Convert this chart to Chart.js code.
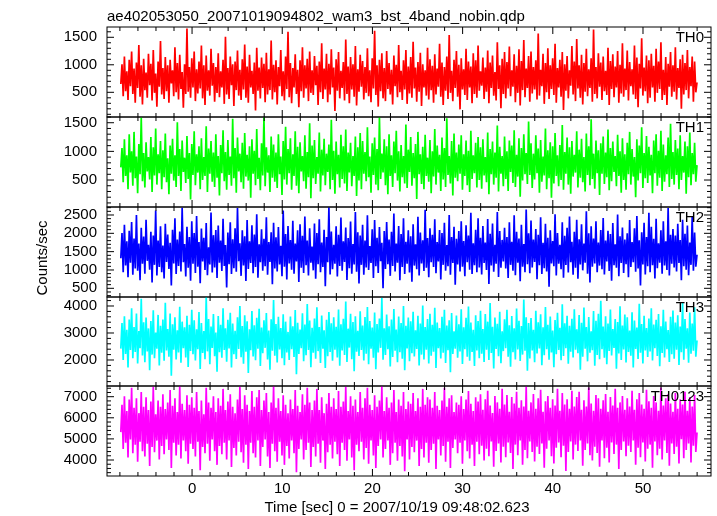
<!DOCTYPE html>
<html>
<head>
<meta charset="utf-8">
<script src="https://cdn.jsdelivr.net/npm/chart.js@4.4.0/dist/chart.umd.min.js"></script>
<style>
  body { margin: 0; background: #fff; }
  #wrap { position: relative; width: 717px; height: 516px; font-family: "Liberation Sans", Arial, sans-serif; color: #000; }
  #wrap canvas { position: absolute; left: 0; top: 0; }
  #ttl { position: absolute; left: 107px; top: 7px; font-size: 15px; line-height: 18px; white-space: nowrap; }
  #xlab { position: absolute; left: 247px; width: 300px; top: 498px; font-size: 15px; line-height: 18px; text-align: center; white-space: nowrap; }
  #ylab { position: absolute; left: -18px; width: 120px; top: 249px; font-size: 15px; line-height: 18px; text-align: center; transform: rotate(-90deg); }
</style>
</head>
<body>
<div id="wrap">
  <canvas id="c0" width="717" height="516"></canvas>
  <canvas id="c1" width="717" height="516"></canvas>
  <canvas id="c2" width="717" height="516"></canvas>
  <canvas id="c3" width="717" height="516"></canvas>
  <canvas id="c4" width="717" height="516"></canvas>
  <div id="ttl">ae402053050_20071019094802_wam3_bst_4band_nobin.qdp</div>
  <div id="ylab">Counts/sec</div>
  <div id="xlab">Time [sec] 0 = 2007/10/19 09:48:02.623</div>
</div>
<script>
// light curves (counts/sec), one bin every tStep sec starting at tStart
var tStart = -7.9;
var tStep = 0.13338;

var th0 = [
  650, 1010, 430, 1150, 520, 880, 360, 1090, 610, 1240, 470, 930, 310, 1040, 580, 1360, 420, 990, 280, 1110,
  540, 860, 400, 1200, 630, 1020, 350, 1270, 490, 840, 240, 1060, 600, 1430, 460, 940, 380, 1140, 520, 990,
  310, 1090, 660, 900, 430, 1320, 500, 1030, 370, 1180, 560, 870, 220, 1010, 470, 1660, 510, 960, 400, 1120,
  590, 1240, 340, 920, 480, 1060, 570, 1350, 390, 990, 270, 1170, 530, 900, 440, 1290, 620, 1030, 330, 960,
  490, 1210, 410, 880, 590, 1090, 290, 1510, 460, 940, 380, 1150, 630, 1010, 250, 1060, 540, 1260, 440, 910,
  360, 1100, 550, 1370, 400, 970, 310, 1180, 590, 890, 470, 1040, 170, 1310, 530, 950, 390, 1130, 580, 1020,
  320, 1220, 460, 920, 540, 1440, 370, 1000, 500, 1080, 280, 960, 610, 1270, 430, 880, 350, 1150, 560, 1600,
  410, 1030, 300, 940, 590, 1190, 470, 910, 230, 1080, 520, 1320, 400, 990, 570, 1110, 340, 1240, 490, 900,
  450, 1160, 630, 980, 270, 1060, 500, 1390, 380, 930, 550, 1200, 320, 1020, 460, 1280, 590, 950, 160, 1100,
  530, 1230, 390, 890, 580, 1050, 350, 1460, 470, 970, 300, 1140, 550, 1010, 420, 1340, 260, 920, 510, 1180,
  600, 1070, 370, 960, 490, 1300, 430, 900, 320, 1120, 570, 1620, 450, 990, 240, 1090, 520, 1210, 390, 940,
  340, 1250, 560, 1030, 460, 910, 280, 1170, 610, 1000, 410, 1360, 500, 890, 360, 1080, 550, 1270, 290, 970,
  480, 1140, 400, 1420, 570, 950, 330, 1050, 510, 1220, 250, 1010, 590, 900, 440, 1310, 370, 1100, 540, 980,
  310, 1190, 460, 930, 600, 1380, 420, 1040, 270, 960, 530, 1150, 380, 1540, 490, 890, 340, 1090, 580, 1250,
  420, 1000, 190, 1120, 550, 920, 450, 1290, 360, 1060, 590, 970, 300, 1210, 470, 1080, 400, 1350, 530, 880,
  620, 1130, 380, 950, 510, 1260, 300, 1040, 580, 1170, 440, 870, 350, 1410, 560, 990, 210, 1110, 470, 1230,
  390, 1050, 570, 1330, 430, 900, 600, 1190, 320, 980, 490, 1280, 260, 1070, 540, 1450, 410, 930, 580, 1160,
  330, 1240, 480, 960, 550, 1080, 370, 1570, 440, 910, 610, 1200, 290, 1030, 500, 1300, 380, 990, 560, 1120,
  450, 1380, 310, 940, 590, 1090, 420, 1230, 180, 1010, 530, 1160, 390, 900, 620, 1340, 460, 1060, 340, 1470,
  570, 990, 400, 1180, 280, 1030, 510, 1290, 430, 920, 580, 1120, 330, 1640, 470, 960, 390, 1210, 600, 1040,
  360, 1150, 520, 890, 450, 1310, 270, 1070, 560, 1190, 410, 970, 590, 1250, 310, 1000, 480, 1390, 420, 930,
  540, 1260, 350, 1050, 610, 920, 460, 1350, 380, 1130, 230, 1020, 570, 1480, 440, 950, 520, 1170, 300, 1080,
  400, 1200, 590, 980, 330, 1290, 490, 1060, 560, 1410, 360, 910, 450, 1140, 270, 1020, 600, 1230, 420, 990,
  510, 1320, 370, 940, 580, 1100, 200, 1180, 460, 1030, 540, 1270, 390, 960, 610, 1150, 330, 1060, 500, 680
];
var th1 = [
  720, 1060, 460, 1210, 570, 930, 340, 1300, 630, 1000, 400, 1340, 530, 910, 270, 1130, 600, 1590, 480, 970,
  370, 1160, 650, 900, 510, 1250, 290, 1070, 580, 1400, 420, 950, 620, 1180, 340, 1020, 550, 1310, 460, 880,
  250, 1100, 610, 1220, 490, 930, 380, 1510, 570, 1040, 310, 1190, 640, 890, 450, 1270, 520, 970, 160, 1130,
  590, 1350, 410, 950, 630, 1090, 340, 1230, 500, 900, 570, 1440, 290, 1050, 610, 1180, 470, 980, 380, 1300,
  540, 920, 230, 1110, 620, 1370, 480, 990, 330, 1200, 590, 910, 400, 1570, 530, 1060, 280, 1240, 650, 960,
  460, 1150, 350, 1320, 560, 940, 490, 1090, 190, 1210, 610, 1010, 410, 1390, 520, 890, 320, 1140, 580, 1600,
  390, 1070, 630, 930, 290, 1260, 540, 1120, 470, 980, 360, 1300, 600, 910, 240, 1180, 510, 1430, 420, 1040,
  620, 1230, 330, 950, 570, 1350, 400, 1080, 270, 1160, 650, 920, 480, 1280, 350, 990, 550, 1490, 180, 1100,
  530, 1200, 430, 900, 610, 1330, 300, 1030, 580, 1220, 410, 960, 640, 1120, 340, 1550, 500, 1010, 260, 1170,
  600, 940, 370, 1290, 520, 1090, 440, 1380, 310, 980, 630, 1150, 390, 920, 570, 1260, 220, 1070, 490, 1320,
  340, 1180, 610, 990, 480, 1420, 550, 910, 280, 1140, 590, 1240, 420, 1040, 320, 1600, 520, 960, 630, 1210,
  410, 1090, 250, 1300, 570, 930, 380, 1170, 620, 1360, 490, 1000, 300, 1110, 550, 920, 440, 1470, 360, 1030,
  640, 1250, 400, 970, 530, 1130, 170, 1340, 600, 950, 430, 1080, 340, 1290, 570, 890, 470, 1200, 270, 1000,
  560, 1390, 420, 1100, 630, 940, 310, 1240, 510, 1060, 380, 1580, 590, 920, 440, 1180, 230, 1310, 540, 980,
  480, 1120, 610, 1280, 330, 950, 570, 1190, 410, 1010, 290, 1360, 520, 930, 620, 1150, 370, 1250, 500, 1070,
  350, 1210, 580, 900, 460, 1330, 250, 1040, 600, 1170, 420, 980, 540, 1450, 300, 1080, 610, 920, 390, 1260,
  520, 1000, 310, 1190, 640, 1100, 450, 1370, 380, 940, 560, 1230, 210, 1060, 490, 1300, 600, 970, 430, 1520,
  590, 1140, 360, 960, 510, 1280, 620, 1050, 280, 1200, 470, 910, 580, 1400, 340, 1020, 530, 1160, 190, 1090,
  440, 1320, 570, 930, 390, 1110, 500, 1460, 330, 990, 610, 1240, 420, 1070, 260, 1180, 560, 940, 630, 1350,
  370, 1030, 540, 1220, 460, 900, 300, 1310, 590, 1090, 410, 1560, 520, 960, 350, 1190, 620, 1020, 240, 1140,
  610, 1260, 430, 980, 550, 1380, 320, 1060, 480, 1170, 640, 920, 390, 1290, 570, 1000, 280, 1230, 500, 950,
  330, 1150, 600, 1340, 420, 1040, 560, 900, 200, 1210, 490, 1100, 620, 1420, 360, 970, 530, 1270, 450, 1080,
  580, 940, 270, 1190, 620, 1300, 400, 1010, 540, 1360, 310, 1120, 470, 930, 600, 1240, 380, 1480, 520, 990,
  420, 1200, 590, 1050, 340, 1280, 500, 920, 630, 1170, 260, 1090, 550, 1330, 410, 970, 600, 1150, 470, 760
];
var th2 = [
  1320, 2010, 940, 2230, 1120, 1780, 800, 2070, 1200, 2310, 870, 1860, 1040, 2500, 980, 1720, 720, 2150, 1170, 1910,
  900, 2370, 1250, 1690, 1010, 2040, 660, 1940, 1140, 2620, 850, 1800, 1080, 2190, 940, 1670, 770, 2260, 1220, 1970,
  1030, 1740, 580, 2100, 1180, 2410, 890, 1830, 1110, 2050, 960, 2700, 1210, 1710, 820, 2180, 1060, 1900, 710, 2330,
  1170, 2010, 920, 2470, 1090, 1760, 640, 2130, 1230, 1880, 1000, 2280, 860, 1620, 1150, 2570, 930, 1950, 1070, 2090,
  780, 2210, 1200, 1800, 970, 2400, 1110, 1680, 520, 2020, 1160, 2300, 890, 1840, 1050, 2140, 950, 2690, 1240, 1730,
  840, 2080, 1120, 1920, 700, 2360, 1030, 1780, 1190, 2220, 910, 1970, 1080, 2520, 790, 1700, 1210, 2110, 980, 1850,
  1100, 2440, 870, 1760, 1220, 2030, 610, 2290, 1040, 1890, 960, 2170, 1150, 1660, 830, 2620, 1090, 1980, 740, 2200,
  1180, 1820, 1010, 2340, 900, 1720, 1230, 2080, 670, 2250, 1060, 1930, 920, 2460, 1130, 1800, 850, 2140, 1200, 1640,
  990, 2270, 760, 2010, 1160, 2380, 940, 1750, 1080, 2100, 560, 1900, 1210, 2710, 880, 2050, 1020, 1690, 1170, 2190,
  820, 1960, 1110, 2430, 980, 1780, 1220, 2160, 730, 1870, 1050, 2320, 900, 1710, 1150, 2580, 950, 2030, 630, 1940,
  1140, 2230, 870, 1800, 1070, 2490, 1000, 1650, 1190, 2110, 780, 2360, 1100, 1880, 920, 2170, 1240, 1740, 500, 2060,
  1030, 2310, 1160, 1830, 840, 2040, 1110, 2540, 960, 1720, 1200, 2200, 720, 1980, 1080, 2410, 890, 1770, 1170, 2080,
  930, 1920, 680, 2250, 1120, 1700, 1020, 2450, 850, 2020, 1180, 1810, 970, 2640, 1060, 1870, 800, 2140, 1210, 1960,
  1080, 2380, 910, 1760, 1230, 2090, 740, 2010, 1140, 2290, 980, 1680, 1100, 2500, 870, 1900, 1190, 2180, 600, 1850,
  1150, 2060, 960, 2330, 1090, 1790, 830, 2220, 1210, 1940, 1010, 2560, 890, 1730, 1130, 2100, 940, 2410, 1070, 1880,
  880, 2200, 1190, 1750, 1000, 2390, 620, 1990, 1120, 2270, 950, 1690, 1170, 2580, 810, 2060, 1060, 1820, 1230, 2150,
  1040, 1900, 780, 2300, 1140, 1770, 980, 2490, 860, 2040, 1200, 1860, 690, 2230, 1090, 1710, 940, 2650, 1160, 2000,
  910, 2350, 1070, 1830, 1220, 2120, 750, 1960, 1130, 2440, 890, 1740, 1050, 2260, 960, 1880, 540, 2080, 1180, 1790,
  1100, 2520, 850, 2010, 1170, 1690, 1020, 2300, 790, 1930, 1140, 2150, 930, 2460, 1210, 1770, 870, 2040, 1060, 2370,
  760, 1840, 1150, 2250, 990, 1720, 1200, 2600, 900, 2000, 660, 2190, 1090, 1860, 1180, 2330, 940, 1750, 1120, 2090,
  1020, 2420, 880, 1800, 1230, 2070, 970, 1980, 710, 2280, 1130, 1700, 1060, 2510, 830, 1920, 1190, 2160, 920, 1830,
  1160, 2000, 800, 2360, 1080, 1760, 1210, 2140, 950, 2470, 1040, 1810, 580, 2030, 1150, 2290, 880, 1900, 1100, 2560,
  940, 2180, 1130, 1850, 770, 2400, 1050, 1730, 1200, 2080, 900, 2330, 1120, 1780, 1000, 2690, 850, 1960, 1170, 2120,
  1070, 1940, 960, 2260, 1190, 1820, 720, 2370, 1100, 1990, 1010, 2210, 860, 1750, 1140, 2450, 980, 2020, 1090, 1420
];
var th3 = [
  2420, 3370, 2000, 3620, 2220, 3120, 1720, 3500, 2370, 3920, 2070, 3220, 2300, 3720, 1870, 3070, 2440, 4270, 2170, 3400,
  1920, 3570, 2320, 3170, 1620, 3440, 2200, 3840, 2070, 3020, 2420, 3670, 1800, 3270, 2270, 3500, 1970, 4120, 2350, 3150,
  2120, 3720, 1420, 3320, 2380, 3580, 2020, 3100, 2280, 3970, 1900, 3420, 2440, 3210, 2090, 3640, 1740, 3300, 2330, 3860,
  2210, 3470, 1980, 3140, 2400, 3780, 1670, 3370, 2260, 3070, 2030, 4330, 2320, 3520, 1840, 3240, 2450, 3700, 2140, 3020,
  1570, 3630, 2290, 3300, 2080, 3920, 2370, 3170, 1940, 3490, 2430, 3750, 1720, 3350, 2210, 3080, 2040, 3580, 2410, 4000,
  2100, 3260, 1860, 3660, 2310, 3430, 1520, 3140, 2360, 3810, 2130, 3290, 1990, 3560, 2420, 3900, 1780, 3200, 2250, 3470,
  2450, 3740, 2020, 3090, 1640, 3510, 2340, 4220, 2160, 3330, 1910, 3600, 2390, 3180, 2070, 3690, 1810, 3420, 2280, 3040,
  2000, 3610, 2400, 3250, 2110, 3850, 1470, 3380, 2220, 3130, 2440, 3730, 1950, 3310, 2180, 4070, 2370, 3460, 1730, 3190,
  2270, 3540, 2050, 3950, 2330, 3220, 1890, 3650, 2420, 3100, 1700, 3490, 2140, 3780, 2300, 3360, 1970, 3580, 2380, 3230,
  2090, 3870, 1790, 3320, 2350, 3530, 2190, 4170, 1930, 3160, 2460, 3710, 2030, 3410, 1580, 3620, 2310, 3080, 2150, 3800,
  2370, 3280, 1980, 3590, 2230, 3960, 1840, 3440, 2420, 3200, 2080, 3760, 1660, 3330, 2280, 3540, 2450, 4300, 2010, 3170,
  2190, 3680, 2400, 3250, 1760, 3500, 2110, 3890, 2340, 3130, 1920, 3610, 2290, 3370, 2050, 4000, 1620, 3270, 2430, 3570,
  1950, 3430, 2250, 3790, 2130, 3100, 2410, 3640, 1800, 3350, 2200, 4020, 2020, 3220, 2380, 3520, 1870, 3710, 2160, 3300,
  2310, 3930, 1700, 3390, 2440, 3180, 2060, 3600, 2270, 3860, 1890, 3280, 2360, 3470, 1550, 3740, 2220, 3060, 2420, 3650,
  2080, 3320, 2320, 3880, 1850, 3210, 2400, 3560, 2120, 3980, 1970, 3390, 2300, 3120, 1780, 3660, 2350, 3440, 2070, 3820,
  2230, 3150, 1930, 3700, 2380, 3420, 2000, 4110, 2260, 3230, 1690, 3570, 2410, 3340, 2140, 3790, 1880, 3060, 2330, 3510,
  2440, 3860, 2120, 3290, 1750, 3630, 2290, 3170, 2020, 3910, 2390, 3450, 1960, 3260, 2200, 4240, 2340, 3580, 1600, 3370,
  2060, 3550, 2350, 3120, 1920, 3820, 2240, 3400, 2430, 3690, 1810, 3210, 2180, 3960, 2400, 3300, 2010, 3610, 2280, 3090,
  1730, 3480, 2210, 3750, 2370, 3190, 1990, 4060, 2150, 3360, 2440, 3640, 1860, 3270, 2310, 3530, 2090, 3880, 2380, 3140,
  2250, 3670, 1640, 3380, 2120, 3940, 2420, 3220, 1950, 3590, 2270, 3060, 2360, 3810, 1790, 3450, 2190, 3710, 2030, 4190,
  2400, 3240, 2080, 3620, 1840, 3350, 2330, 3870, 2170, 3150, 2450, 3520, 1680, 3410, 2240, 3990, 2000, 3280, 2390, 3680,
  1910, 3580, 2300, 3090, 2160, 3770, 1720, 3460, 2410, 3200, 2040, 4080, 2270, 3330, 1870, 3640, 2350, 3180, 2110, 3540,
  2320, 3920, 1980, 3310, 2440, 3490, 2150, 3700, 1770, 3250, 2260, 3860, 2090, 3420, 2400, 3110, 1930, 3600, 2210, 3830,
  2050, 3390, 2380, 3660, 1820, 3240, 2290, 4150, 2010, 3520, 2420, 3170, 1900, 3760, 2230, 3350, 2340, 3950, 2120, 2720
];
var th0123 = [
  5320, 6620, 4520, 7020, 4820, 6320, 4120, 6870, 4970, 7420, 4320, 6470, 4720, 6920, 3920, 6220, 4870, 7220, 4420, 6520,
  4170, 6970, 4770, 6370, 3720, 6770, 4620, 7470, 4370, 6170, 4920, 6820, 4020, 6520, 4670, 7120, 4270, 6420, 4970, 6720,
  4470, 7320, 3620, 6570, 4820, 6920, 4220, 6270, 4720, 7500, 4070, 6670, 4920, 6370, 4420, 7070, 3820, 6620, 4770, 6970,
  4520, 6470, 4170, 7220, 4870, 6320, 3520, 6820, 4620, 6170, 4320, 7420, 4770, 6720, 3970, 6470, 4970, 7020, 4420, 6270,
  3770, 6920, 4670, 6570, 4270, 7370, 4820, 6370, 4020, 6770, 4920, 7120, 3670, 6520, 4570, 6220, 4220, 6870, 4870, 7470,
  4370, 6420, 3870, 7070, 4720, 6620, 3570, 6320, 4820, 7270, 4320, 6520, 4120, 6970, 4920, 7320, 3720, 6370, 4620, 6820,
  4970, 7170, 4170, 6270, 3620, 6720, 4770, 7500, 4420, 6470, 3920, 6920, 4870, 6320, 4220, 7070, 3770, 6620, 4670, 6220,
  4070, 6870, 4920, 6420, 4320, 7320, 3420, 6570, 4520, 6270, 4970, 7120, 4020, 6620, 4470, 7420, 4820, 6720, 3670, 6370,
  4620, 6820, 4170, 7370, 4770, 6370, 3870, 6970, 4920, 6220, 3570, 6670, 4370, 7170, 4720, 6520, 4070, 6920, 4870, 6420,
  4270, 7270, 3720, 6520, 4820, 6770, 4470, 7470, 3970, 6320, 4970, 7020, 4120, 6570, 3520, 6870, 4720, 6270, 4420, 7220,
  4870, 6470, 4020, 6920, 4570, 7420, 3820, 6620, 4920, 6370, 4220, 7070, 3620, 6520, 4670, 6820, 4970, 7500, 4120, 6320,
  4520, 6970, 4920, 6470, 3770, 6720, 4320, 7320, 4820, 6270, 3970, 6870, 4670, 6570, 4170, 7220, 3470, 6420, 4970, 6770,
  4020, 6670, 4620, 7170, 4370, 6320, 4920, 6920, 3720, 6520, 4520, 7370, 4120, 6620, 4820, 6970, 3870, 6870, 4470, 6470,
  4770, 7220, 3570, 6570, 4970, 6370, 4220, 6820, 4670, 7420, 3920, 6520, 4870, 6920, 3620, 7070, 4570, 6270, 4970, 6720,
  4320, 6620, 4820, 7020, 3820, 6420, 4920, 6870, 4420, 7270, 4070, 6670, 4720, 6320, 3720, 6970, 4870, 6770, 4270, 7120,
  4680, 6380, 3980, 6880, 4530, 7280, 4180, 6580, 4880, 6230, 3680, 7030, 4430, 6730, 4780, 6430, 3880, 7380, 4630, 6630,
  4130, 7080, 4830, 6280, 4330, 6980, 3580, 6680, 4730, 7230, 4230, 6480, 4930, 6830, 3780, 6530, 4480, 7480, 4080, 6330,
  4880, 6730, 4380, 7130, 3930, 6430, 4630, 6930, 4280, 7330, 4780, 6280, 3630, 6780, 4530, 7030, 4930, 6480, 4180, 6880,
  3830, 6580, 4580, 7380, 4830, 6330, 4130, 7180, 4680, 6630, 3480, 6880, 4380, 6430, 4880, 7280, 4030, 6530, 4730, 6980,
  4430, 7230, 4930, 6380, 3730, 6830, 4480, 6530, 4780, 7430, 4230, 6680, 3980, 6330, 4630, 7080, 4330, 6930, 3680, 6430,
  4930, 6830, 4080, 7130, 4580, 6280, 3880, 6980, 4830, 6580, 4280, 7380, 4730, 6480, 3580, 6730, 4480, 7030, 4880, 6380,
  4180, 6930, 4680, 6530, 4380, 7280, 4930, 6380, 3780, 6880, 4580, 7180, 4130, 6630, 4830, 6430, 3930, 7330, 4530, 6780,
  4730, 6480, 3630, 7030, 4880, 6730, 4230, 6330, 4530, 7430, 4030, 6580, 4930, 6930, 4330, 7130, 3730, 6680, 4780, 6280,
  4280, 7180, 4630, 6430, 3830, 6880, 4980, 6630, 4080, 7230, 4480, 6330, 4780, 6980, 3880, 6530, 4680, 7080, 4380, 5300
];

var panelNames = ['TH0', 'TH1', 'TH2', 'TH3', 'TH0123'];
var panelSeries = [th0, th1, th2, th3, th0123];
var panelColors = ['#ff0000', '#00ff00', '#0000ff', '#00ffff', '#ff00ff'];
var yMin = [51, 29, 263, 1037, 3242];
var yMax = [1687, 1600, 2718, 4333, 7507];
var yTicks = [
  [500, 1000, 1500],
  [500, 1000, 1500],
  [500, 1000, 1500, 2000, 2500],
  [2000, 3000, 4000],
  [4000, 5000, 6000, 7000]
];
var yMinorStep = [100, 100, 100, 200, 200];
var xTicks = [0, 10, 20, 30, 40, 50];
var xMinorStep = 2;
var xMin = -9.43, xMax = 57.54;

// panel frame edges in pixels
var edges = [27, 117, 207, 297, 386, 476];
var FONT = { family: '"Liberation Sans", Arial, sans-serif', size: 15 };

// frame, inward ticks and panel name
var framePlugin = {
  id: 'frame',
  afterDraw: function (chart) {
    var ctx = chart.ctx;
    var a = chart.chartArea;
    var xs = chart.scales.x, ys = chart.scales.y;
    var i = chart.options.panelIndex;
    ctx.save();
    ctx.strokeStyle = '#000';
    ctx.lineWidth = 1;
    ctx.strokeRect(a.left, a.top, a.right - a.left, a.bottom - a.top);
    ctx.beginPath();
    // x ticks
    for (var t = -8; t <= 56; t += xMinorStep) {
      var px = xs.getPixelForValue(t);
      var len = xTicks.indexOf(t) >= 0 ? 7 : 4;
      ctx.moveTo(px, a.top); ctx.lineTo(px, a.top + len);
      ctx.moveTo(px, a.bottom); ctx.lineTo(px, a.bottom - len);
    }
    // y ticks
    var st = yMinorStep[i];
    for (var v = Math.ceil(yMin[i] / st) * st; v <= yMax[i]; v += st) {
      var py = ys.getPixelForValue(v);
      var l = yTicks[i].indexOf(v) >= 0 ? 7 : 4;
      ctx.moveTo(a.left, py); ctx.lineTo(a.left + l, py);
      ctx.moveTo(a.right, py); ctx.lineTo(a.right - l, py);
    }
    ctx.stroke();
    ctx.fillStyle = '#000';
    ctx.font = FONT.size + 'px ' + FONT.family;
    ctx.textAlign = 'right';
    ctx.textBaseline = 'middle';
    ctx.fillText(panelNames[i], a.right - 7, a.top + 11);
    ctx.restore();
  }
};

function plain(v) { return String(v); }

function makePanel(i) {
  var vals = panelSeries[i];
  var pts = vals.map(function (v, k) { return { x: tStart + k * tStep, y: v }; });
  var last = i === 4;
  new Chart(document.getElementById('c' + i), {
    type: 'line',
    data: {
      datasets: [{
        data: pts,
        borderColor: panelColors[i],
        borderWidth: 1.7,
        borderJoinStyle: 'bevel',
        pointRadius: 0,
        tension: 0,
        fill: false
      }]
    },
    options: {
      panelIndex: i,
      responsive: false,
      animation: false,
      events: [],
      layout: { padding: { left: 0, right: 6, top: edges[i], bottom: last ? 0 : 516 - edges[i + 1] } },
      plugins: { legend: { display: false }, tooltip: { enabled: false } },
      scales: {
        x: {
          type: 'linear',
          min: xMin, max: xMax,
          display: last,
          afterBuildTicks: function (s) { s.ticks = xTicks.map(function (v) { return { value: v }; }); },
          afterFit: function (s) { if (last) s.height = 516 - edges[5]; },
          grid: { display: false, drawTicks: false },
          border: { display: false },
          ticks: { color: '#000', font: FONT, padding: 4, autoSkip: false, maxRotation: 0, callback: plain }
        },
        y: {
          type: 'linear',
          min: yMin[i], max: yMax[i],
          afterBuildTicks: function (s) { s.ticks = yTicks[i].map(function (v) { return { value: v }; }); },
          afterFit: function (s) { s.width = 107; },
          grid: { display: false, drawTicks: false },
          border: { display: false },
          ticks: { color: '#000', font: FONT, padding: 10, callback: plain }
        }
      }
    },
    plugins: [framePlugin]
  });
}

for (var p = 0; p < 5; p++) makePanel(p);
</script>
</body>
</html>
